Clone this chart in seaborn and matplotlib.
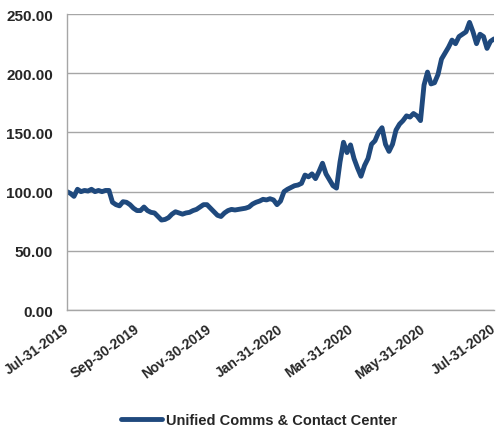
import pandas as pd
import matplotlib
matplotlib.use('Agg')
import matplotlib.pyplot as plt
import matplotlib.dates as mdates
import matplotlib.ticker as mticker
import matplotlib.transforms as mtransforms
import seaborn as sns

# series, one value every 3 days from Jul-31-2019 to Jul-31-2020
start_date = '2019-07-31'
end_date = '2020-07-31'
index_values = [
    100, 98.5, 96, 102, 100, 101, 100.5, 102, 100, 101,
    100, 101, 101, 91, 89, 88, 91.5, 91, 89, 86,
    84, 84, 87, 84, 82.5, 82, 79, 76, 76.5, 78,
    81, 83, 82, 81, 82, 82.5, 84, 85, 87, 89,
    89, 86, 83, 80, 79, 82, 84, 85, 84.5, 85,
    85.5, 86, 87, 89.5, 91, 92, 93.5, 93, 94, 93,
    89, 92, 100, 102, 103.5, 105, 105.6, 107, 114, 112.5,
    115, 111, 117, 124, 115, 110, 105, 103, 125, 141.7,
    133, 139.5, 128, 120, 113, 122, 128, 140, 143, 150,
    154, 140, 134, 140, 152, 157, 160, 164, 163, 166,
    164, 160, 190, 201, 191, 192, 199, 212, 217, 222,
    228, 225, 231, 233, 235, 243, 235, 225, 233, 231,
    221, 227, 229,
]
series_name = 'Unified Comms & Contact Center'
tick_dates = ['2019-07-31', '2019-09-30', '2019-11-30', '2020-01-31',
              '2020-03-31', '2020-05-31', '2020-07-31']
y_ticks = [0, 50, 100, 150, 200, 250]

dates = pd.date_range(start_date, end_date, freq='3D')
df = pd.DataFrame({'Date': dates, 'Value': index_values, 'Series': series_name})

sns.set_style('white')
plt.rcParams['font.family'] = ['Liberation Sans', 'DejaVu Sans']

fig = plt.figure(figsize=(4.98, 4.31), dpi=100)
ax = fig.add_axes([0.1345, 0.2784, 0.8575, 0.6866])

sns.lineplot(data=df, x='Date', y='Value', hue='Series', palette=['#1F497D'],
             linewidth=3.5, ax=ax)

ax.set_xlim(pd.Timestamp(start_date), pd.Timestamp(end_date))
ax.set_ylim(0, 250)
ax.set_yticks(y_ticks)
ax.yaxis.set_major_formatter(mticker.FormatStrFormatter('%.2f'))
ax.set_xticks(pd.to_datetime(tick_dates))
ax.xaxis.set_major_formatter(mdates.DateFormatter('%b-%d-%Y'))

ax.grid(axis='y', color='#A6A6A6', linewidth=1)
ax.grid(axis='x', visible=False)
ax.set_axisbelow(True)
for side in ['top', 'right']:
    ax.spines[side].set_visible(False)
for side in ['left', 'bottom']:
    ax.spines[side].set_color('#A6A6A6')
    ax.spines[side].set_linewidth(1)

ax.tick_params(axis='both', which='major', direction='out', length=4, width=1,
               color='#A6A6A6', pad=3)
ax.tick_params(axis='y', labelsize=11, pad=6)
ax.tick_params(axis='x', labelsize=10, pad=4)
for lbl in ax.get_yticklabels():
    lbl.set_fontweight('bold')
# shift the date labels a little left so the last one stays inside the figure
shift = mtransforms.ScaledTranslation(-4 / 100, 0, fig.dpi_scale_trans)
for lbl in ax.get_xticklabels():
    lbl.set_fontweight('bold')
    lbl.set_rotation(36)
    lbl.set_ha('right')
    lbl.set_rotation_mode('anchor')
    lbl.set_transform(lbl.get_transform() + shift)

ax.set_xlabel('')
ax.set_ylabel('')

ax.legend(loc='lower center', bbox_to_anchor=(0.45, -0.44), frameon=False,
          prop={'weight': 'bold', 'size': 10.5}, handlelength=2.8,
          handletextpad=0.3)

fig.savefig('out.png', dpi=100)
